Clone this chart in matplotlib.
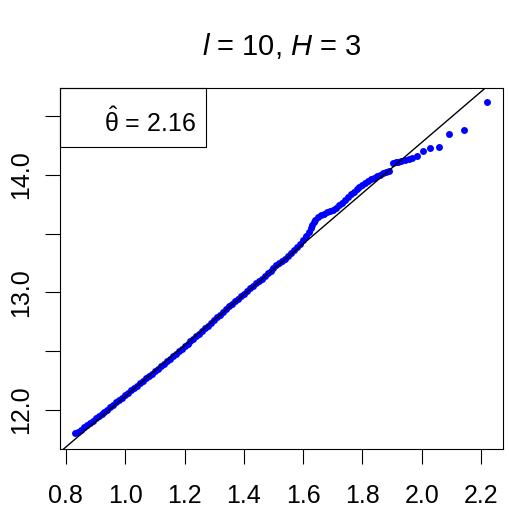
import numpy as np
import matplotlib
matplotlib.use("Agg")
import matplotlib.pyplot as plt
from matplotlib.patches import Rectangle

# --- data (theoretical vs. sample quantiles) ---
x_q = [0.83, 0.84, 0.85, 0.86, 0.87, 0.88, 0.89, 0.90, 0.91, 0.92,
       0.93, 0.94, 0.95, 0.96, 0.97, 0.98, 0.99, 1.00, 1.01, 1.02,
       1.03, 1.04, 1.05, 1.06, 1.07, 1.08, 1.09, 1.10, 1.11, 1.12,
       1.13, 1.14, 1.15, 1.16, 1.17, 1.18, 1.19, 1.20, 1.21, 1.22,
       1.23, 1.24, 1.25, 1.26, 1.27, 1.28, 1.29, 1.30, 1.31, 1.32,
       1.33, 1.34, 1.35, 1.36, 1.37, 1.38, 1.39, 1.40, 1.41, 1.42,
       1.43, 1.44, 1.45, 1.46, 1.47, 1.48, 1.49, 1.50, 1.51, 1.52,
       1.53, 1.54, 1.55, 1.56, 1.57, 1.58, 1.59, 1.60, 1.61, 1.62,
       1.625, 1.63, 1.635, 1.64, 1.65, 1.66, 1.67, 1.68, 1.69, 1.70,
       1.71, 1.72, 1.73, 1.74, 1.75, 1.76, 1.77, 1.78, 1.79, 1.80,
       1.81, 1.82, 1.83, 1.84, 1.85, 1.86, 1.87, 1.88, 1.89,
       1.903, 1.912, 1.920, 1.930, 1.944, 1.957, 1.967, 1.984, 2.004,
       2.028, 2.058, 2.092, 2.143, 2.220]
y_q = [11.800, 11.815, 11.832, 11.851, 11.872, 11.890, 11.908, 11.928, 11.947, 11.966,
       11.985, 12.004, 12.024, 12.046, 12.065, 12.086, 12.106, 12.126, 12.146, 12.167,
       12.188, 12.207, 12.228, 12.249, 12.270, 12.290, 12.310, 12.332, 12.352, 12.372,
       12.394, 12.414, 12.436, 12.458, 12.478, 12.500, 12.520, 12.542, 12.562, 12.584,
       12.606, 12.628, 12.650, 12.672, 12.694, 12.716, 12.740, 12.764, 12.788, 12.812,
       12.836, 12.860, 12.884, 12.906, 12.926, 12.946, 12.966, 12.988, 13.010, 13.034,
       13.058, 13.080, 13.100, 13.118, 13.138, 13.162, 13.186, 13.210, 13.232, 13.250,
       13.268, 13.288, 13.310, 13.334, 13.358, 13.384, 13.412, 13.444, 13.478, 13.515,
       13.545, 13.575, 13.598, 13.616, 13.640, 13.658, 13.672, 13.682, 13.692, 13.704,
       13.722, 13.742, 13.764, 13.788, 13.812, 13.834, 13.856, 13.878, 13.898, 13.916,
       13.932, 13.948, 13.962, 13.976, 13.990, 14.002, 14.014, 14.026, 14.036,
       14.102, 14.108, 14.114, 14.119, 14.128, 14.136, 14.145, 14.162, 14.204,
       14.230, 14.238, 14.349, 14.383, 14.621]

theta_hat = 2.16
intercept = 9.957

x_ticks = [0.8, 1.0, 1.2, 1.4, 1.6, 1.8, 2.0, 2.2]
y_ticks = [12.0, 12.5, 13.0, 13.5, 14.0, 14.5]
y_tick_labels = ["12.0", "", "13.0", "", "14.0", ""]

plt.rcParams.update({
    "font.family": "Liberation Sans",
    "mathtext.fontset": "custom",
    "mathtext.rm": "Liberation Sans",
    "mathtext.it": "Liberation Sans:italic",
})

fig = plt.figure(figsize=(5.09, 5.09), dpi=100, facecolor="white")
ax = fig.add_axes([60 / 509, 1 - 449 / 509, 443 / 509, 361 / 509])

# reference line (abline) and points
ax.axline((0.0, intercept), slope=theta_hat, color="black", lw=1.0, zorder=3)
ax.plot(x_q, y_q, "o", color="#0000FF", markersize=5.0, markeredgewidth=0, zorder=2)

ax.set_xlim(0.78, 2.274)
ax.set_ylim(11.668, 14.74)

ax.set_xticks(x_ticks)
ax.set_xticklabels([f"{v:.1f}" for v in x_ticks])
ax.set_yticks(y_ticks)
ax.set_yticklabels(y_tick_labels, rotation=90, va="center")

ax.tick_params(axis="both", direction="out", length=10.5, width=0.8, labelsize=18)
ax.tick_params(axis="x", pad=15)
ax.tick_params(axis="y", pad=9)
for s in ax.spines.values():
    s.set_linewidth(0.8)

# legend box (topleft)
ax.add_patch(Rectangle((0, 1 - 59 / 361), 146 / 443, 59 / 361, transform=ax.transAxes,
                       fill=False, edgecolor="black", lw=0.8, zorder=4, clip_on=False))
ax.text(0.203, 0.905, r"$\hat{\mathrm{\theta}}$ = 2.16", transform=ax.transAxes,
        fontsize=18, ha="center", va="center", zorder=5)

ax.set_title(r"$l$ = 10, $H$ = 3", fontsize=21, pad=24)

plt.savefig("out.png", dpi=100, facecolor="white")
plt.close()
